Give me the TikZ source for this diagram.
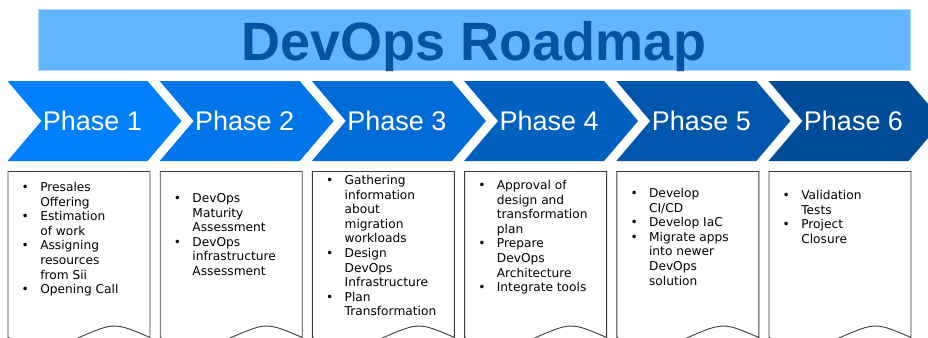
\documentclass[tikz,border=0pt]{standalone}
\usepackage{fontspec}
\setmainfont{DejaVu Sans}
\newfontfamily\arialfont{Liberation Sans}
\usepackage{xcolor}
\usepackage{tikz}

\definecolor{titlebar}{RGB}{98,182,255}
\definecolor{titletext}{RGB}{5,82,160}
\definecolor{chevstart}{RGB}{0,128,255}
\definecolor{chevend}{RGB}{0,76,152}
\definecolor{boxline}{RGB}{60,60,60}

\newcommand{\tasklist}[1]{\begin{tabular}{@{}l@{\hspace{11.4pt}}l@{}}#1\end{tabular}}

\begin{document}
\begin{tikzpicture}[x=1pt, y=-1pt, node distance=152.2pt]
% Define styles
\tikzstyle{headline} = [font=\arialfont\bfseries\fontsize{54}{60}\selectfont, text=titletext, inner sep=0pt, anchor=base]
\tikzstyle{phase} = [font=\arialfont\fontsize{27}{32}\selectfont, text=white, inner sep=0pt, anchor=base]
\tikzstyle{tasks} = [font=\fontsize{12.2}{14.6}\selectfont, anchor=north west, inner sep=0pt]
\tikzstyle{docbox} = [draw=boxline, line width=0.9pt, fill=white]

\useasboundingbox (0,0) rectangle (928,337);
\clip (0,0) rectangle (928,337);

% Title
\draw [fill=titlebar, draw=titlebar!55!white, line width=0.8pt] (38,9.5) rectangle (910,70);
\node [headline] (title) at (474,60) {DevOps Roadmap};

% Chevrons and boxes
\foreach \i in {1,...,6} {
  \pgfmathsetmacro{\lx}{7.5+152.2*(\i-1)}
  \pgfmathtruncatemacro{\mix}{(\i-1)*20}
  \fill [chevend!\mix!chevstart] (\lx,81) -- ++(140,0) -- ++(34,40) -- ++(-34,40) -- ++(-140,0) -- ++(34,-40) -- cycle;
  \draw [docbox] (\lx+0.5,337.5) -- (\lx+0.5,171.5) -- (\lx+142.5,171.5) -- (\lx+142.5,337.5)
    .. controls (\lx+107,322.2) .. (\lx+71.5,337.5)
    .. controls (\lx+36,352.8) .. (\lx+0.5,337.5) -- cycle;
}

% Phases
\node [phase] (ph1) at (92.5,130) {Phase 1};
\node [phase, right of=ph1] (ph2) {Phase 2};
\node [phase, right of=ph2] (ph3) {Phase 3};
\node [phase, right of=ph3] (ph4) {Phase 4};
\node [phase, right of=ph4] (ph5) {Phase 5};
\node [phase, right of=ph5] (ph6) {Phase 6};

% Tasks
\node [tasks] (tasks1) at (21.5,181) {\tasklist{
  \textbullet & Presales\\ & Offering\\
  \textbullet & Estimation\\ & of work\\
  \textbullet & Assigning\\ & resources\\ & from Sii\\
  \textbullet & Opening Call}};
\node [tasks] (tasks2) at (173.7,192) {\tasklist{
  \textbullet & DevOps\\ & Maturity\\ & Assessment\\
  \textbullet & DevOps\\ & infrastructure\\ & Assessment}};
\node [tasks] (tasks3) at (325.9,174) {\tasklist{
  \textbullet & Gathering\\ & information\\ & about\\ & migration\\ & workloads\\
  \textbullet & Design\\ & DevOps\\ & Infrastructure\\
  \textbullet & Plan\\ & Transformation}};
\node [tasks] (tasks4) at (478.1,179) {\tasklist{
  \textbullet & Approval of\\ & design and\\ & transformation\\ & plan\\
  \textbullet & Prepare\\ & DevOps\\ & Architecture\\
  \textbullet & Integrate tools}};
\node [tasks] (tasks5) at (630.3,187) {\tasklist{
  \textbullet & Develop\\ & CI/CD\\
  \textbullet & Develop IaC\\
  \textbullet & Migrate apps\\ & into newer\\ & DevOps\\ & solution}};
\node [tasks] (tasks6) at (782.5,189) {\tasklist{
  \textbullet & Validation\\ & Tests\\
  \textbullet & Project\\ & Closure}};

\end{tikzpicture}
\end{document}
